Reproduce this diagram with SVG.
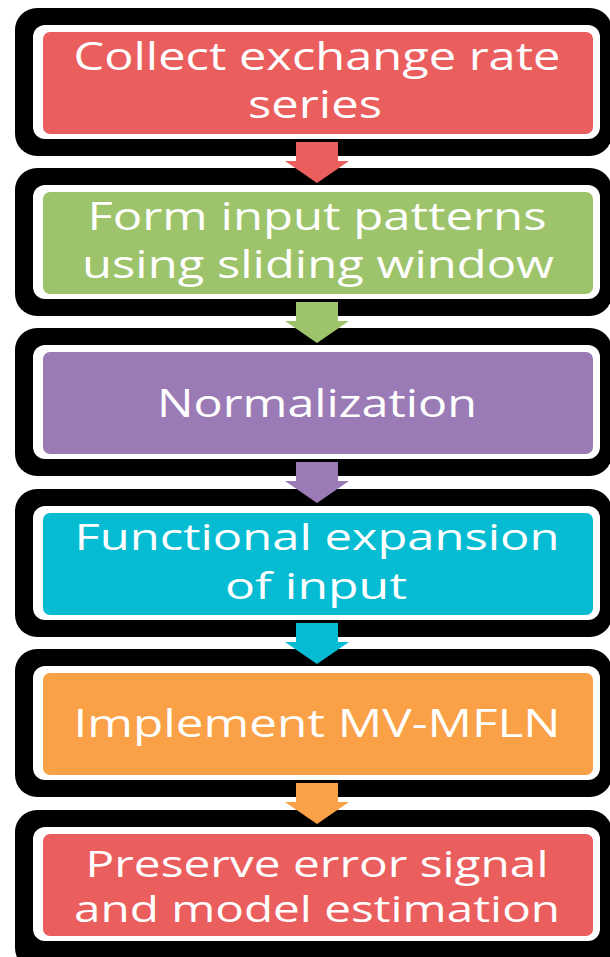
<svg xmlns="http://www.w3.org/2000/svg" width="610" height="957" viewBox="0 0 610 957">
  <style>
    .frame { fill: #000000; }
    .gap { fill: #ffffff; }
    .label { font-family: "Open Sans", "DejaVu Sans", sans-serif; font-size: 38px; fill: #ffffff; text-anchor: middle; }
    .red { fill: #EB5E5E; }
    .green { fill: #9DC46A; }
    .purple { fill: #9A7BB5; }
    .cyan { fill: #05BCD3; }
    .orange { fill: #FAA046; }
  </style>
  <rect width="610" height="957" fill="#ffffff"/>

  <g id="step1">
    <rect class="frame" x="15" y="8" width="597" height="148" rx="22"/>
    <rect class="gap" x="33" y="25" width="567" height="114" rx="12"/>
    <rect class="red" x="43" y="32" width="550" height="102" rx="7"/>
    <text class="label" x="317" y="70" textLength="487" lengthAdjust="spacingAndGlyphs">Collect exchange rate</text>
    <text class="label" x="315" y="118" textLength="134" lengthAdjust="spacingAndGlyphs">series</text>
  </g>

  <g id="step2">
    <rect class="frame" x="15" y="168" width="597" height="148" rx="22"/>
    <rect class="gap" x="33" y="185" width="567" height="114" rx="12"/>
    <rect class="green" x="43" y="192" width="550" height="102" rx="7"/>
    <text class="label" x="317" y="230" textLength="459" lengthAdjust="spacingAndGlyphs">Form input patterns</text>
    <text class="label" x="318" y="278" textLength="472" lengthAdjust="spacingAndGlyphs">using sliding window</text>
  </g>

  <g id="step3">
    <rect class="frame" x="15" y="328" width="597" height="148" rx="22"/>
    <rect class="gap" x="33" y="345" width="567" height="114" rx="12"/>
    <rect class="purple" x="43" y="352" width="550" height="102" rx="7"/>
    <text class="label" x="317" y="417" textLength="320" lengthAdjust="spacingAndGlyphs">Normalization</text>
  </g>

  <g id="step4">
    <rect class="frame" x="15" y="489" width="597" height="148" rx="22"/>
    <rect class="gap" x="33" y="506" width="567" height="114" rx="12"/>
    <rect class="cyan" x="43" y="513" width="550" height="102" rx="7"/>
    <text class="label" x="317" y="550" style="font-size:36px" textLength="485" lengthAdjust="spacingAndGlyphs">Functional expansion</text>
    <text class="label" x="316" y="599" style="font-size:36px" textLength="182" lengthAdjust="spacingAndGlyphs">of input</text>
  </g>

  <g id="step5">
    <rect class="frame" x="15" y="649" width="597" height="148" rx="22"/>
    <rect class="gap" x="33" y="666" width="567" height="114" rx="12"/>
    <rect class="orange" x="43" y="673" width="550" height="102" rx="7"/>
    <text class="label" x="317" y="737" textLength="487" lengthAdjust="spacingAndGlyphs">Implement MV-MFLN</text>
  </g>

  <g id="step6">
    <rect class="frame" x="15" y="810" width="597" height="160" rx="22"/>
    <rect class="gap" x="33" y="827" width="567" height="114" rx="12"/>
    <rect class="red" x="43" y="834" width="550" height="102" rx="7"/>
    <text class="label" x="317" y="877" style="font-size:36px" textLength="463" lengthAdjust="spacingAndGlyphs">Preserve error signal</text>
    <text class="label" x="317" y="922" style="font-size:36px" textLength="486" lengthAdjust="spacingAndGlyphs">and model estimation</text>
  </g>

  <!-- block arrows linking consecutive steps -->
  <g id="connectors">
    <polygon class="red" points="296,142 338,142 338,161 349,161 317,183 285,161 296,161"/>
    <polygon class="green" points="296,302 338,302 338,321 349,321 317,343 285,321 296,321"/>
    <polygon class="purple" points="296,462 338,462 338,481 349,481 317,503 285,481 296,481"/>
    <polygon class="cyan" points="296,623 338,623 338,642 349,642 317,664 285,642 296,642"/>
    <polygon class="orange" points="296,783 338,783 338,802 349,802 317,824 285,802 296,802"/>
  </g>
</svg>
